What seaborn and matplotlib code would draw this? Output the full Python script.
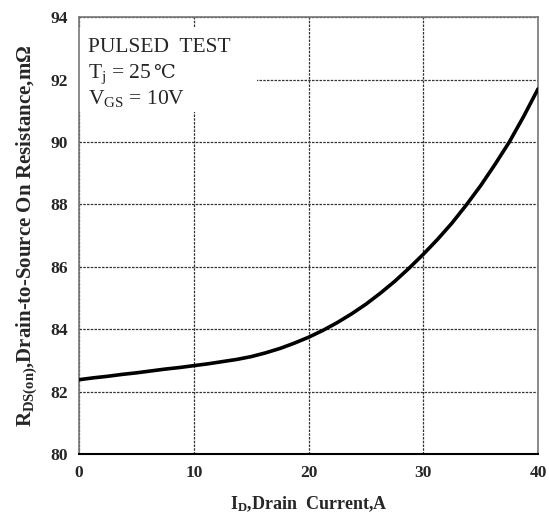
import pandas as pd
import seaborn as sns
import matplotlib.pyplot as plt
from matplotlib.patches import Rectangle

# values
drain_current = [0, 1.25, 2.5, 3.75, 5, 6.25, 7.5, 8.75, 10, 11.25, 12.5, 13.75, 15, 16.25,
                 17.5, 18.75, 20, 21.25, 22.5, 23.75, 25, 26.25, 27.5, 28.75, 30, 31.25,
                 32.5, 33.75, 35, 36.25, 37.5, 38.75, 40]
rds_on = [82.38, 82.44, 82.49, 82.55, 82.60, 82.66, 82.72, 82.77, 82.83, 82.89, 82.96, 83.03,
          83.12, 83.24, 83.38, 83.55, 83.74, 83.96, 84.21, 84.49, 84.80, 85.15, 85.53, 85.95,
          86.40, 86.88, 87.40, 87.98, 88.60, 89.28, 90.00, 90.82, 91.70]
x_ticks = [0, 10, 20, 30, 40]
y_ticks = [80, 82, 84, 86, 88, 90, 92, 94]
note_lines = ['PULSED  TEST', 'T$_\\mathrm{j}$ = 25', 'V$_\\mathrm{GS}$ = 10V']

df = pd.DataFrame({'ID': drain_current, 'RDS': rds_on})

sns.set_style('white')
plt.rcParams['font.family'] = ['Liberation Serif', 'DejaVu Serif']
plt.rcParams['mathtext.fontset'] = 'custom'
plt.rcParams['mathtext.rm'] = 'Liberation Serif'
plt.rcParams['mathtext.it'] = 'Liberation Serif'
plt.rcParams['mathtext.bf'] = 'Liberation Serif:bold'

fig = plt.figure(figsize=(5.49, 5.2), dpi=100)
ax = fig.add_axes([0.144, 0.127, 0.836, 0.840])

sns.lineplot(data=df, x='ID', y='RDS', ax=ax, color='black', linewidth=2.6, zorder=4)

ax.set_xlim(0, 40)
ax.set_ylim(80, 94)
ax.set_xticks(x_ticks)
ax.set_yticks(y_ticks)
ax.tick_params(length=0, labelsize=12.5, pad=8)
for lab in ax.get_xticklabels() + ax.get_yticklabels():
    lab.set_fontweight('bold')

ax.grid(True, linestyle=(0, (2, 1)), color='#333333', linewidth=0.9)
for s in ['left', 'top', 'right']:
    ax.spines[s].set_color('#777777')
    ax.spines[s].set_linewidth(1.2)
ax.spines['bottom'].set_color('black')
ax.spines['bottom'].set_linewidth(1.5)

ax.set_xlabel(r'$\mathbf{I_D}$,Drain  Current,A', fontsize=13, fontweight='bold', labelpad=10)
ax.set_ylabel(r'$\mathbf{R_{DS(on)}}$,Drain-to-Source On Resistance,m$\mathbf{\Omega}$',
              fontsize=15, fontweight='bold', labelpad=8)

# white box behind the test conditions
ax.add_patch(Rectangle((0.0, 0.783), 0.388, 0.194, transform=ax.transAxes,
                       facecolor='white', edgecolor='none', zorder=2))
texts = []
for i, line in enumerate(note_lines):
    texts.append(ax.text(0.02, 0.92 - i * 0.059, line, transform=ax.transAxes, fontsize=15.5,
                         va='baseline', ha='left', zorder=3))
# degree Celsius sign from a font that has it, on the same baseline
ax.annotate('\u2103', xy=(1, 0.861), xycoords=(texts[1], 'axes fraction'),
            xytext=(1, 0), textcoords='offset points',
            fontsize=14, family='DejaVu Serif', va='baseline', ha='left', zorder=3)

fig.savefig('out.png', dpi=100)
